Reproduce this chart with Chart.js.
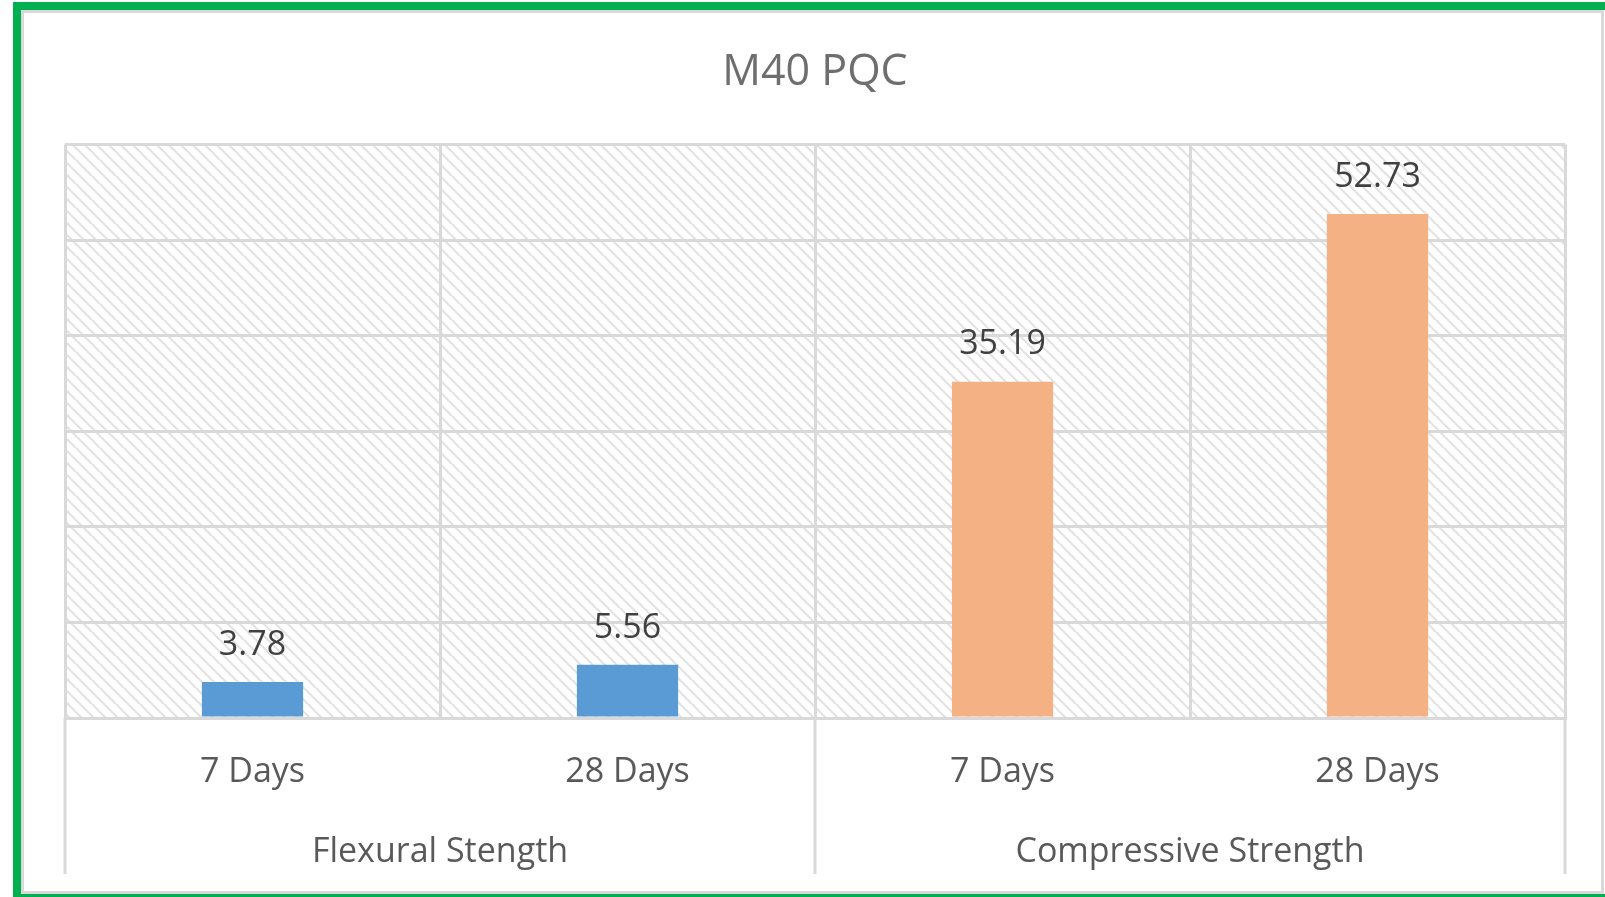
<!DOCTYPE html>
<html>
<head>
<meta charset="utf-8">
<title>M40 PQC</title>
<script src="https://cdn.jsdelivr.net/npm/chart.js@4.4.1/dist/chart.umd.min.js"></script>
<style>
    html, body { margin: 0; padding: 0; background: #fff; overflow: hidden; }
    .frame {
        position: absolute; left: 13px; top: 2px; width: 1700px; height: 900px;
        border: 8px solid #00b050; box-sizing: border-box;
    }
    .inner {
        position: absolute; left: 21px; top: 10px; width: 1583px; height: 884px;
        border: 3px solid #d9d9d9; box-sizing: border-box;
    }
    .chart-box { position: absolute; left: 0; top: 0; width: 1605px; height: 897px; }
</style>
</head>
<body>
<div class="frame"></div>
<div class="inner"></div>
<div class="chart-box"><canvas id="pqcChart"></canvas></div>
<script>
// Data
const categories = ['7 Days', '28 Days', '7 Days', '28 Days'];
const groups = ['Flexural Stength', 'Compressive Strength'];
const strengthValues = [3.78, 5.56, 35.19, 52.73];
const barColors = ['#5b9bd5', '#5b9bd5', '#f4b183', '#f4b183'];
const yTicks = [0, 10, 20, 30, 40, 50, 60];

const FONT = "'Open Sans', sans-serif";
const GRID = '#d9d9d9';

// Hatched plot background (wide downward diagonal)
function makeHatch() {
    const size = 12;
    const c = document.createElement('canvas');
    c.width = size; c.height = size;
    const g = c.getContext('2d');
    g.fillStyle = '#ffffff';
    g.fillRect(0, 0, size, size);
    g.strokeStyle = '#e2e2e2';
    g.lineWidth = 2;
    g.beginPath();
    g.moveTo(-2, -2); g.lineTo(size + 2, size + 2);
    g.moveTo(-2, size - 2); g.lineTo(2, size + 2);
    g.moveTo(size - 2, -2); g.lineTo(size + 2, 2);
    g.stroke();
    return g.createPattern(c, 'repeat');
}

const hatchBackground = {
    id: 'hatchBackground',
    beforeDraw(chart) {
        const { ctx, chartArea } = chart;
        ctx.save();
        ctx.fillStyle = makeHatch();
        ctx.fillRect(chartArea.left, chartArea.top, chartArea.right - chartArea.left, chartArea.bottom - chartArea.top);
        ctx.restore();
    }
};

// Value labels above the bars
const valueLabels = {
    id: 'valueLabels',
    afterDatasetsDraw(chart) {
        const ctx = chart.ctx;
        ctx.save();
        ctx.font = '34px ' + FONT;
        ctx.fillStyle = '#404040';
        ctx.textAlign = 'center';
        ctx.textBaseline = 'middle';
        chart.getDatasetMeta(0).data.forEach((bar, i) => {
            ctx.fillText(strengthValues[i].toFixed(2), bar.x, bar.y - 37);
        });
        ctx.restore();
    }
};

// Group separators under the axis (two-level category axis)
const groupSeparators = {
    id: 'groupSeparators',
    afterDraw(chart) {
        const x2 = chart.scales.x2;
        const top = chart.chartArea.bottom;
        const bottom = 874;
        const xs = [x2.left, (x2.getPixelForValue(0) + x2.getPixelForValue(1)) / 2, x2.right];
        const ctx = chart.ctx;
        ctx.save();
        ctx.strokeStyle = GRID;
        ctx.lineWidth = 3;
        xs.forEach(px => {
            ctx.beginPath();
            ctx.moveTo(px, top);
            ctx.lineTo(px, bottom);
            ctx.stroke();
        });
        ctx.restore();
    }
};

const ctx = document.getElementById('pqcChart').getContext('2d');
new Chart(ctx, {
    type: 'bar',
    data: {
        labels: categories,
        datasets: [{
            data: strengthValues,
            backgroundColor: barColors,
            borderWidth: 0,
            barPercentage: 0.27,
            categoryPercentage: 1.0
        }]
    },
    options: {
        responsive: true,
        maintainAspectRatio: false,
        animation: false,
        layout: { padding: { left: 65, right: 40, top: 0, bottom: 16 } },
        plugins: {
            legend: { display: false },
            tooltip: { enabled: false },
            title: {
                display: true,
                text: 'M40 PQC',
                color: '#6e6e6e',
                font: { family: FONT, size: 43, weight: 'normal' },
                padding: { top: 47, bottom: 46 }
            }
        },
        scales: {
            y: {
                min: yTicks[0],
                max: yTicks[yTicks.length - 1],
                afterBuildTicks: scale => { scale.ticks = yTicks.map(v => ({ value: v })); },
                ticks: { display: false },
                grid: { color: GRID, lineWidth: 3, drawTicks: false },
                border: { display: false }
            },
            x: {
                weight: 0,
                offset: true,
                afterFit: scale => { scale.height = 73; },
                grid: { offset: true, color: GRID, lineWidth: 3, drawTicks: false },
                border: { color: GRID, width: 3 },
                ticks: { color: '#595959', padding: 34, font: { family: FONT, size: 34 } }
            },
            x2: {
                type: 'category',
                labels: groups,
                position: 'bottom',
                weight: 1,
                offset: true,
                afterFit: scale => { scale.height = 90; },
                grid: { display: false },
                border: { display: false },
                ticks: { color: '#595959', padding: 33, font: { family: FONT, size: 34 } }
            }
        }
    },
    plugins: [hatchBackground, valueLabels, groupSeparators]
});
</script>
</body>
</html>
